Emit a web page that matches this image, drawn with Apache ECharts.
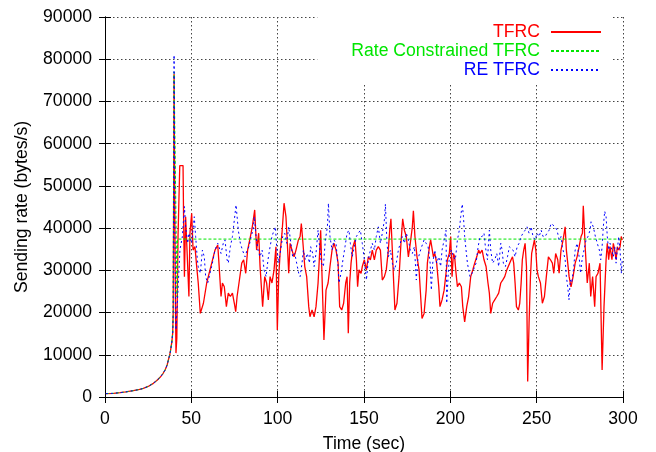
<!DOCTYPE html>
<html style="height: 100%; width: 100%;">
<head>
    <meta charset="utf-8">
    <title>Sending rate vs time</title>
    <script src="https://cdn.jsdelivr.net/npm/echarts@6/dist/echarts.min.js"></script>
    <style>
        body, html {
            margin: 0;
            padding: 0;
            width: 100%;
            height: 100%;
            background: #fff;
        }
        #main {
            width: 656px;
            height: 452px;
        }
    </style>
</head>
<body>
<div id="main"></div>
<script type="text/javascript">
    // slow-start ramp, common to all three runs: [time (s), rate (bytes/s)]
    var ramp = [[0.5,800],[5,870],[8.7,1020],[12,1200],[16.4,1500],[20,1780],[22.2,2050],[25,2500],
        [28,3240],[30,3900],[31.9,4660],[33.5,5500],[34.8,6400],[36,7600],[36.7,8760],[37.5,10000],
        [38,11100],[38.7,13000],[39.2,15100],[39.5,20000]];

    var tfrcRun = [[40,76500],[40.6,30000],[41.1,10400],[41.6,14000],[42.3,38000],[43.3,54800],[45.2,54800],[45.5,43000],
        [46,28500],[46.7,42700],[47.5,34800],[48.6,23800],[49.2,38800],[50.2,43500],[51,34800],[52.1,35600],[53.1,30900],
        [54,27000],[55.2,19800],[57,22200],[58.9,27000],[61.8,31700],[63.7,34800],[65.3,36000],[66,31700],[67.2,23800],
        [68,27000],[69.1,26100],[70.3,21400],[71.4,24600],[72.6,23800],[73.8,24600],[74.9,22200],[75.7,20200],[76.5,23800],
        [77.6,27000],[79.2,31700],[80.3,32500],[81.5,29300],[82.6,34800],[84.2,38000],[85.3,40300],[86.7,44300],[87.8,34800],
        [89,38800],[89.8,30900],[91.3,21400],[92.5,28500],[93.6,27000],[94.6,23000],[95.6,28500],[96.7,27000],[97.9,30100],
        [99,35600],[99.8,15900],[100.6,28500],[101.4,34000],[102.5,38800],[103.7,45900],[104.8,42700],[105.6,36400],
        [106.4,29300],[107.2,36400],[108.3,34800],[109.5,33200],[110.6,34800],[112,37200],[113,38000],[113.7,41100],
        [114.5,37200],[115.7,30900],[116.8,28500],[118,21400],[118.7,19000],[119.9,20600],[121.1,19000],[122.2,21400],
        [123.4,27000],[124.1,32500],[124.9,39500],[125.7,39500],[126.8,13500],[128,25300],[129.2,27000],[130.3,30900],
        [131.5,34800],[132.6,36400],[133.8,34800],[135,31700],[135.9,21400],[137.1,20600],[138.2,22200],[139.4,27000],
        [140.2,28500],[140.9,15100],[141.7,27000],[142.5,31700],[143.6,35600],[144.8,37200],[145.6,32500],[146.3,26100],
        [147.1,30100],[148.3,29300],[149,30900],[150.2,32500],[151.4,30100],[152.5,33200],[153.7,32500],[154.8,34800],
        [156,32500],[157.1,34800],[158.3,35600],[159.5,34800],[160.6,27700],[161.8,28500],[162.9,30100],[164.1,34800],
        [164.9,39500],[165.6,42200],[166.4,34800],[167.2,27000],[167.9,20600],[169.1,22200],[170.3,28500],[171.4,36400],
        [172.4,42200],[173.4,39500],[174.5,38000],[175.7,33200],[176.8,36400],[178,40300],[178.6,44100],[179.5,38000],
        [180.7,33200],[181.9,30100],[182.6,25300],[183.6,18600],[184.8,19800],[186,25300],[186.7,31700],[187.9,35600],
        [188.6,37200],[189.4,37200],[190.2,33200],[191,34000],[192.1,31700],[193.3,26100],[194,21400],[195.2,23000],
        [196.4,25300],[197.5,29300],[198.3,32500],[199.4,34000],[200.2,38000],[201,28500],[201.8,34000],[202.5,33200],
        [203.3,29300],[204.1,26100],[205.2,27000],[206.4,26100],[207.2,21400],[208.3,17800],[209.5,21400],[210.6,23800],
        [211.8,28500],[213,30100],[214.1,31700],[215.3,33200],[216.4,34800],[217.2,34000],[218.4,34800],[219.5,32500],
        [220.7,30900],[221.8,27000],[222.6,24600],[223.4,19800],[224.5,22200],[225.7,23000],[226.9,23800],[228,24600],
        [229.2,27000],[230.3,27700],[231.5,28500],[232.7,30100],[233.8,30100],[235.2,32500],[236,33200],[236.7,31700],
        [237.5,27000],[238.3,21400],[239.4,20600],[240.2,22200],[241,27000],[241.7,32500],[242.5,34800],[243.3,36400],
        [244.1,30900],[244.8,3650],[245.6,17500],[246.4,28500],[247.1,34000],[247.9,35600],[248.7,37200],[249.5,34800],
        [250.2,30100],[251,28500],[252.2,27000],[253.3,22200],[254.5,23800],[255.6,28500],[256.8,33200],[258,32500],
        [259.1,31700],[259.9,29300],[261,34000],[262.2,32500],[263,29300],[264.1,34800],[265.3,37200],[266.5,40300],
        [267.2,34800],[268,31700],[268.8,28500],[269.9,26100],[271.1,28500],[272.3,31700],[273.4,33200],[274.6,35600],
        [275.7,38000],[276.5,38800],[277,45300],[278.2,34800],[279.3,27000],[280.5,31700],[281.3,23800],[282.4,28500],
        [283.6,21400],[284.4,28500],[285.5,29300],[286.7,31700],[287.9,6400],[289,21400],[290.2,32500],[290.9,36400],
        [291.7,32500],[292.5,35600],[293.6,32500],[294.4,36400],[295.2,34800],[296,32500],[296.7,35600],[297.5,34800],
        [298.3,35600],[299,38000],[299.6,37200]];

    var constrainedRun = [[40,77000],[41.7,23700],[42,37400],[300,37400]];

    var reRun = [[40,81000],[40.5,40000],[41.1,15900],[42,23000],[43.4,34800],[44.8,38000],[46,45100],[46.7,40300],
        [47.9,36400],[48.6,38800],[50.2,36400],[51.7,42700],[52.5,38000],[53.5,32500],[54,30900],[55.2,29300],[56.4,34800],
        [57.5,33200],[58.3,28500],[59.5,27000],[60.8,29300],[62.2,31700],[63.7,34800],[65.3,36400],[66,35600],[67.2,34000],
        [68.5,36400],[69.5,37200],[70.7,32500],[71.4,31700],[72.6,35600],[73.8,38000],[74.9,38000],[75.9,45500],[77.2,39500],
        [78.4,36400],[79.6,34800],[81.1,33200],[82.3,34800],[83.4,35600],[84.6,38000],[85.7,39500],[86.5,42700],[87.5,38000],
        [88.6,34800],[89.8,33200],[91,34800],[92.1,30100],[93.3,28500],[94.4,32500],[95.6,35600],[96.7,38000],[97.9,39500],
        [98.7,40300],[99.4,35600],[100.6,31700],[101.7,34800],[102.9,38000],[104.1,38800],[105.2,36400],[106.4,40300],
        [107.5,40300],[108.7,33200],[109.9,34000],[111,31700],[112.2,29300],[113,28500],[114.1,31700],[114.9,34800],
        [116,32500],[117.2,34000],[118.4,31700],[119.1,35600],[120.3,34000],[121.1,30900],[122.2,34000],[123.4,39500],
        [124.1,36400],[125.3,31700],[126.5,30900],[127.6,37200],[128.8,40300],[129.4,45900],[130.3,38000],[131.5,34800],
        [132.6,37200],[133.8,36400],[135,30900],[135.5,27000],[136.7,29300],[137.8,32500],[139,35600],[140.2,38800],
        [141.3,39500],[142.1,36400],[143.2,33200],[144.4,35600],[145.6,38000],[146.7,38800],[147.9,39500],[149,36400],
        [150.2,32500],[151.4,27700],[152.5,32500],[153.7,34800],[154.8,36400],[156,34800],[157.1,38000],[158.3,40300],
        [159.5,36400],[160.6,38800],[161.8,41900],[162.4,45700],[163.3,36400],[164.1,33200],[165.3,34800],[166.4,31700],
        [167.6,30100],[168.7,31700],[169.9,34800],[171,36400],[172.2,38000],[173.4,36400],[174.5,38800],[175.7,37200],
        [176.8,34800],[178,34000],[179.2,35600],[180.3,27700],[181.1,32500],[182.2,34000],[183.4,35600],[184.8,37200],
        [186,36400],[187.1,35600],[188.3,31700],[189,25300],[189.8,31700],[191,34800],[192.1,31700],[193.3,33200],
        [194.4,30900],[195.2,34800],[196.4,37200],[197.5,39500],[197.9,22200],[198.7,28500],[199.4,33200],[200.6,34800],
        [201.8,33200],[202.9,32500],[204.1,37200],[205.2,39500],[206,42700],[206.9,45700],[207.6,42700],[208.3,38000],
        [209.1,34800],[209.9,31700],[210.6,30100],[211.4,28500],[212.6,29300],[213.7,29300],[214.9,31700],[216.1,35600],
        [217.2,38000],[218.4,38000],[219.5,38800],[220.3,35600],[221.5,32500],[222.6,39500],[223.4,34800],[224.5,31700],
        [225.7,32500],[226.9,34000],[228,30900],[229.2,36400],[230,34800],[230.7,31700],[231.9,30900],[233.1,33200],
        [234.2,35600],[235.2,35600],[236.3,34800],[237.5,33200],[238.7,35600],[239.8,36400],[241,38000],[242.1,38800],
        [243.3,39500],[244.4,40300],[245.6,38800],[246.8,40300],[247.9,38000],[249.1,37200],[250.2,38800],[251.4,38000],
        [252.6,39500],[253.7,38000],[254.9,38000],[256,38800],[257.2,39500],[258.4,41100],[259.5,41100],[260.7,40300],
        [261.8,39500],[263,37200],[264.1,38000],[264.9,35600],[265.7,34000],[266.5,32500],[267.2,28500],[268,26100],
        [268.7,23000],[269.5,27700],[270.3,27000],[271.5,30900],[272.3,34800],[273.4,36400],[274.6,33200],[275.4,29300],
        [276.3,32500],[277.4,34800],[278.6,37200],[279.7,38000],[280.9,39500],[281.5,41500],[282.8,40300],[284,38000],
        [285.1,36400],[286.3,34800],[287.1,32500],[287.9,35600],[288.6,40300],[289.4,44000],[290.2,42700],[290.9,38000],
        [291.7,34800],[292.5,36400],[293.6,34800],[294.4,33200],[295.2,35600],[296,31700],[296.7,34800],[297.5,38000],
        [298.3,34800],[299,29300],[299.6,32500]];

    var seriesNames = ['TFRC', 'Rate Constrained TFRC', 'RE TFRC'];
    var seriesColors = ['#ff0000', '#00e600', '#0000ff'];
    var seriesDash = ['solid', [3, 2], [2, 3]];
    var runs = [tfrcRun, constrainedRun, reRun];

    var font = '"Liberation Sans", Arial, sans-serif';
    var chart = echarts.init(document.getElementById('main'), null, {renderer: 'canvas'});

    var gridLine = {show: true, lineStyle: {color: '#444', type: [1.5, 2.5], width: 1}};
    var frame = {show: true, lineStyle: {color: '#000', width: 1}};
    var plain = function (v) { return String(v); };

    var option = {
        animation: false,
        backgroundColor: '#fff',
        grid: {left: 105, right: 33, top: 17, bottom: 55, outerBoundsMode: 'none'},
        legend: {
            orient: 'vertical',
            align: 'right',
            right: 45,
            top: 17,
            itemWidth: 50,
            itemHeight: 14,
            itemGap: 1,
            padding: [6, 9, 4, 34],
            backgroundColor: '#fff',
            itemStyle: {opacity: 0},
            data: seriesNames.map(function (n, i) {
                return {name: n, textStyle: {color: seriesColors[i]}};
            }),
            textStyle: {fontFamily: font, fontSize: 17.6, lineHeight: 14, padding: [0, 6, 0, 0]}
        },
        xAxis: [{
            type: 'value', min: 0, max: 300, interval: 50,
            name: 'Time (sec)', nameLocation: 'middle', nameGap: 38,
            nameTextStyle: {fontFamily: font, fontSize: 17.6, color: '#000'},
            axisLine: frame,
            axisTick: {inside: true, length: 6, lineStyle: {color: '#000'}},
            axisLabel: {fontFamily: font, fontSize: 17.6, color: '#000', margin: 13, formatter: plain},
            splitLine: gridLine
        }, {
            type: 'value', min: 0, max: 300, interval: 50, position: 'top',
            axisLine: frame,
            axisTick: {inside: true, length: 6, lineStyle: {color: '#000'}},
            axisLabel: {show: false},
            splitLine: {show: false}
        }],
        yAxis: [{
            type: 'value', min: 0, max: 90000, interval: 10000,
            name: 'Sending rate (bytes/s)', nameLocation: 'middle', nameGap: 74,
            nameTextStyle: {fontFamily: font, fontSize: 17.6, color: '#000'},
            axisLine: frame,
            axisTick: {inside: true, length: 6, lineStyle: {color: '#000'}},
            axisLabel: {fontFamily: font, fontSize: 17.6, color: '#000', margin: 13, formatter: plain},
            splitLine: gridLine
        }, {
            type: 'value', min: 0, max: 90000, interval: 10000, position: 'right',
            axisLine: frame,
            axisTick: {inside: true, length: 6, lineStyle: {color: '#000'}},
            axisLabel: {show: false},
            splitLine: {show: false}
        }],
        series: runs.map(function (run, i) {
            return {
                name: seriesNames[i],
                type: 'line',
                xAxisIndex: 0,
                yAxisIndex: 0,
                showSymbol: false,
                symbol: 'none',
                data: ramp.concat(run),
                itemStyle: {color: seriesColors[i]},
                lineStyle: {color: seriesColors[i], width: i === 0 ? 1.3 : 1, type: seriesDash[i]}
            };
        })
    };

    chart.setOption(option);
</script>
</body>
</html>
